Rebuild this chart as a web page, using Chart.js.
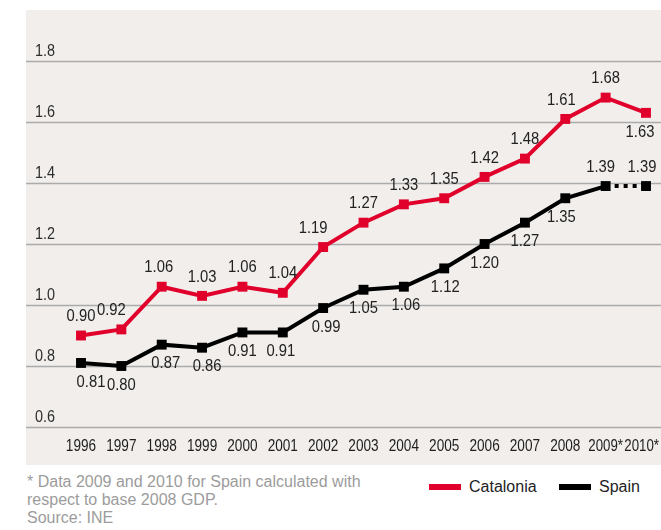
<!DOCTYPE html>
<html>
<head>
<meta charset="utf-8">
<script src="https://cdn.jsdelivr.net/npm/chart.js@4"></script>
<style>
  body { margin: 0; background: #fff; font-family: 'Liberation Sans', Arial, sans-serif; }
  #wrap { position: relative; width: 661px; height: 530px; overflow: hidden; }
  #chart { position: absolute; left: 0; top: 0; }
  .note { position: absolute; left: 27px; top: 473px; color: #9c9c9c; font-size: 16px; line-height: 18px; }
  .legend { position: absolute; top: 478px; font-size: 16px; line-height: 18px; color: #1e1e1e; white-space: nowrap; }
  .sw { display: inline-block; width: 32px; height: 6px; vertical-align: middle; margin-right: 8px; position: relative; top: -1px; }
</style>
</head>
<body>
<div id="wrap">
  <canvas id="chart" width="661" height="470"></canvas>
  <div class="note">* Data 2009 and 2010 for Spain calculated with<br>respect to base 2008 GDP.<br>Source: INE</div>
  <div class="legend" style="left:429px"><span class="sw" style="background:#e0002b"></span>Catalonia</div>
  <div class="legend" style="left:559px"><span class="sw" style="background:#000"></span>Spain</div>
</div>
<script>
const years = ['1996', '1997', '1998', '1999', '2000', '2001', '2002', '2003', '2004', '2005', '2006', '2007', '2008', '2009*', '2010*']
const catalonia = [0.90, 0.92, 1.06, 1.03, 1.06, 1.04, 1.19, 1.27, 1.33, 1.35, 1.42, 1.48, 1.61, 1.68, 1.63]
const spain = [0.81, 0.80, 0.87, 0.86, 0.91, 0.91, 0.99, 1.05, 1.06, 1.12, 1.20, 1.27, 1.35, 1.39, 1.39]
const yTicks = [0.6, 0.8, 1.0, 1.2, 1.4, 1.6, 1.8]

// where each value label sits relative to its point
const catPlace = ['a', 'a', 'a', 'a', 'a', 'a', 'a', 'a', 'a', 'a', 'a', 'a', 'a', 'a', 'b']
const catShift = [0, -10, -3, 0, 0, 0, -10, 0, 0, 0, 0, 0, -4, 0, -6]
const spainPlace = ['b', 'b', 'b', 'b', 'b', 'b', 'b', 'b', 'b', 'b', 'b', 'b', 'b', 'a', 'a']
const spainShift = [10, 0, 4, 5, 0, -2, 3, 0, 2, 1, 0, 0, -4, -5, -4]

const font = '"Liberation Sans", Arial, sans-serif'

// squeezed text, the original uses a condensed face
function narrowText(ctx, text, x, y, sx) {
  ctx.save()
  ctx.translate(x, y)
  ctx.scale(sx, 1)
  ctx.fillText(text, 0, 0)
  ctx.restore()
}

const backdrop = {
  id: 'backdrop',
  beforeDraw(chart) {
    const { ctx } = chart
    const y = chart.scales.y
    const x = chart.scales.x
    ctx.save()
    ctx.fillStyle = '#f1eeeb'
    ctx.fillRect(26, 10, 635, 455)
    ctx.strokeStyle = '#ababab'
    ctx.lineWidth = 1.3
    ctx.fillStyle = '#2e2e2e'
    ctx.font = '16px ' + font
    ctx.textAlign = 'left'
    ctx.textBaseline = 'alphabetic'
    yTicks.forEach(v => {
      const py = Math.round(y.getPixelForValue(v)) + 0.5
      ctx.beginPath()
      ctx.moveTo(26, py)
      ctx.lineTo(661, py)
      ctx.stroke()
      narrowText(ctx, v.toFixed(1), 35, py - 6, 0.9)
    })
    ctx.fillStyle = '#1e1e1e'
    ctx.font = '17px ' + font
    ctx.textAlign = 'center'
    ctx.textBaseline = 'middle'
    years.forEach((lab, i) => {
      const half = ctx.measureText(lab).width * 0.78 / 2
      const px = Math.min(x.getPixelForValue(i), 659 - half)
      narrowText(ctx, lab, px, chart.chartArea.bottom + 19, lab.length > 4 ? 0.78 : 0.8)
    })
    ctx.restore()
  }
}

const valueLabels = {
  id: 'valueLabels',
  afterDatasetsDraw(chart) {
    const { ctx } = chart
    const places = [catPlace, spainPlace]
    const shifts = [catShift, spainShift]
    ctx.save()
    ctx.font = '17px ' + font
    ctx.fillStyle = '#222'
    ctx.textAlign = 'center'
    ctx.textBaseline = 'middle'
    chart.data.datasets.forEach((ds, i) => {
      chart.getDatasetMeta(i).data.forEach((pt, j) => {
        const dy = places[i][j] == 'a' ? -19 : 19
        narrowText(ctx, ds.data[j].toFixed(2), pt.x + shifts[i][j], pt.y + dy, 0.87)
      })
    })
    ctx.restore()
  }
}

const ctx = document.getElementById('chart').getContext('2d')
const chart = new Chart(ctx, {
  type: 'line',
  data: {
    labels: years,
    datasets: [
      {
        label: 'Catalonia',
        data: catalonia,
        borderColor: '#e0002b',
        backgroundColor: '#e0002b',
        borderWidth: 4,
        pointStyle: 'rect',
        pointRadius: 7,
        pointBorderWidth: 0,
        tension: 0
      },
      {
        label: 'Spain',
        data: spain,
        borderColor: '#000',
        backgroundColor: '#000',
        borderWidth: 4,
        pointStyle: 'rect',
        pointRadius: 7,
        pointBorderWidth: 0,
        tension: 0,
        segment: {
          borderDash: c => c.p0DataIndex === 13 ? [4, 5] : undefined
        }
      }
    ]
  },
  options: {
    responsive: false,
    animation: false,
    layout: { padding: { left: 81, right: 15, top: 61, bottom: 43 } },
    plugins: {
      legend: { display: false },
      tooltip: { enabled: false }
    },
    scales: {
      x: { display: false, offset: false },
      y: { display: false, min: 0.6, max: 1.8 }
    }
  },
  plugins: [backdrop, valueLabels]
})
</script>
</body>
</html>
